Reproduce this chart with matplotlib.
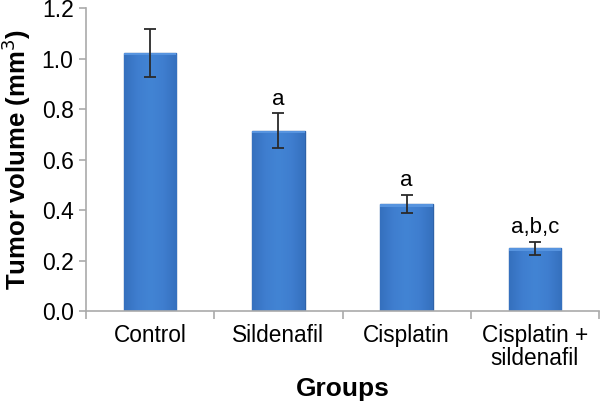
import numpy as np
import matplotlib
matplotlib.use("Agg")
import matplotlib.pyplot as plt
from matplotlib.colors import LinearSegmentedColormap

# data
groups = ["Control", "Sildenafil", "Cisplatin", "Cisplatin +\nsildenafil"]
volume = [1.023, 0.715, 0.423, 0.248]
sd = [0.095, 0.068, 0.036, 0.026]
letters = ["", "a", "a", "a,b,c"]
yticks = [0.0, 0.2, 0.4, 0.6, 0.8, 1.0, 1.2]

plt.rcParams["font.family"] = ["Liberation Sans", "DejaVu Sans"]

fig = plt.figure(figsize=(6.02, 4.04), dpi=100)
ax = fig.add_axes([0.143, 0.23, 0.852, 0.75])

x = np.arange(len(groups))
bars = ax.bar(x, volume, width=0.41, color="#3D7BCB", edgecolor="#2E62A8",
              linewidth=1.0, zorder=2)

# soft horizontal shading inside each bar
shade = LinearSegmentedColormap.from_list(
    "bar", ["#3570BE", "#3F7ECF", "#4284D4", "#3F7ECF", "#3570BE"])
grad = np.linspace(0, 1, 64).reshape(1, -1)
for b in bars:
    x0, w, h = b.get_x(), b.get_width(), b.get_height()
    im = ax.imshow(grad, cmap=shade, aspect="auto", extent=[x0, x0 + w, 0, h],
                   zorder=2.1)
    im.set_clip_path(b)
    # lighter top bevel
    ax.fill_between([x0, x0 + w], h - 0.01, h, color="#5794DF", lw=0, zorder=2.2)

ax.errorbar(x, volume, yerr=sd, fmt="none", ecolor="#2A2A2A", elinewidth=1.3,
            capsize=4, capthick=1.3, zorder=3)

for xi, v, e, lab in zip(x, volume, sd, letters):
    if lab:
        ax.text(xi, v + e + 0.015, lab, ha="center", va="bottom", fontsize=16)

ax.set_xlim(-0.5, len(groups) - 0.5)
ax.set_ylim(0, 1.2)
ax.set_yticks(yticks)
ax.set_yticklabels([f"{t:.1f}" for t in yticks], fontsize=16.5)

# category labels between boundary ticks
ax.set_xticks(x)
ax.set_xticklabels(groups, fontsize=16.3, linespacing=1.05)
ax.tick_params(axis="x", length=0, pad=9)
ax.set_xticks(np.arange(len(groups) + 1) - 0.5, minor=True)
ax.tick_params(axis="x", which="minor", length=6, color="#AAAAAA", width=1.2)
ax.tick_params(axis="y", length=5, color="#AAAAAA", width=1.2, pad=4)

for s in ["top", "right"]:
    ax.spines[s].set_visible(False)
for s in ["left", "bottom"]:
    ax.spines[s].set_color("#AAAAAA")
    ax.spines[s].set_linewidth(1.2)

ax.set_ylabel("Tumor volume (mm$^3$)", fontsize=18.5, fontweight="bold", labelpad=6)
ax.set_xlabel("Groups", fontsize=19, fontweight="bold", labelpad=5)

fig.savefig("out.png", dpi=100)
